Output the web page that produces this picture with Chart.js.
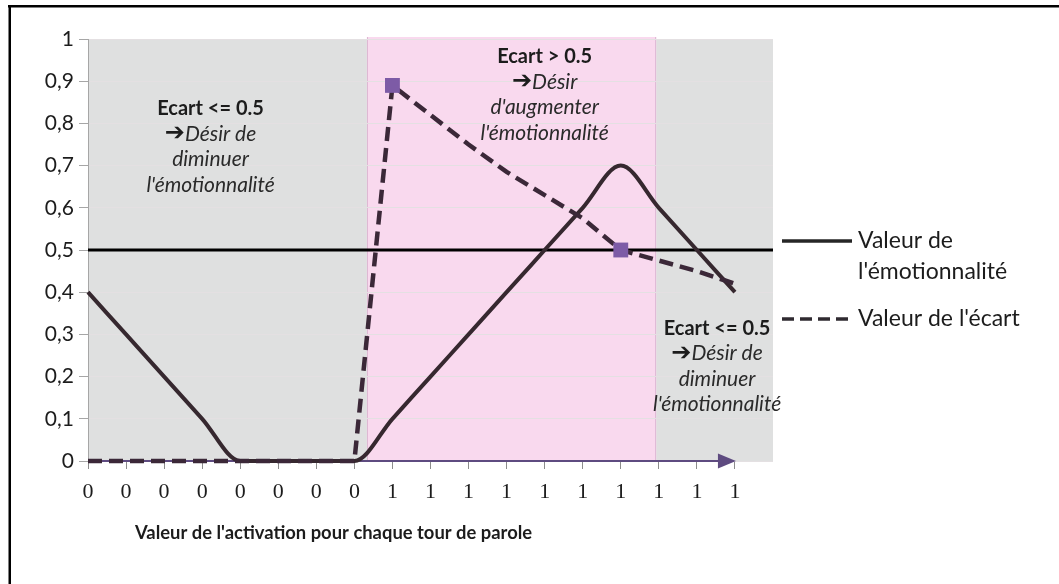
<!DOCTYPE html>
<html>
<head>
<meta charset="utf-8">
<script src="https://cdn.jsdelivr.net/npm/chart.js@4.4.0/dist/chart.umd.min.js"></script>
<style>
  html, body { margin: 0; padding: 0; background: #fff; }
</style>
</head>
<body>
<canvas id="myChart" width="1059" height="584"></canvas>
<script>
// activation value printed under each speech turn
var activationLabels = ["0", "0", "0", "0", "0", "0", "0", "0", "1", "1", "1", "1", "1", "1", "1", "1", "1", "1"];
var emotionValues = [0.4, 0.3, 0.2, 0.1, 0, 0, 0, 0, 0.1, 0.2, 0.3, 0.4, 0.5, 0.6, 0.7, 0.6, 0.5, 0.4];
var gapValues = [0, 0, 0, 0, 0, 0, 0, 0, 0.89, 0.82, 0.75, 0.685, 0.63, 0.575, 0.5, 0.475, 0.45, 0.42];
var markedTurns = [8, 14];
var threshold = 0.5;
var yTickLabels = ["0", "0,1", "0,2", "0,3", "0,4", "0,5", "0,6", "0,7", "0,8", "0,9", "1"];

var FONT = "Lato";
var INK = "#1c1c1c";

function toPoints(values) {
  return values.map(function (v, i) { return { x: i, y: v }; });
}

// shaded zones behind the plot: gray = decrease wanted, pink = increase wanted
var zones = {
  id: 'zones',
  beforeDraw: function (chart) {
    var ctx = chart.ctx, xs = chart.scales.x, ys = chart.scales.y;
    var top = ys.getPixelForValue(1), bottom = ys.getPixelForValue(0);
    var a = xs.getPixelForValue(0), b = xs.getPixelForValue(7.33);
    var c = xs.getPixelForValue(14.93), d = xs.getPixelForValue(18);
    ctx.save();
    ctx.fillStyle = '#dfe0e0';
    ctx.fillRect(a, top, b - a, bottom - top);
    ctx.fillRect(c, top + 1, d - c, bottom - top - 1);
    ctx.fillStyle = '#f9d9ee';
    ctx.fillRect(b, top - 2, c - b, bottom - top + 2);
    ctx.strokeStyle = '#dcb6d2';
    ctx.lineWidth = 1;
    ctx.beginPath();
    ctx.moveTo(b + 0.5, top - 2); ctx.lineTo(b + 0.5, bottom);
    ctx.moveTo(c - 0.5, top - 2); ctx.lineTo(c - 0.5, bottom);
    ctx.stroke();
    ctx.restore();
  }
};

// horizontal axis drawn as an arrow ending on the last turn
var axisArrow = {
  id: 'axisArrow',
  beforeDatasetsDraw: function (chart) {
    var ctx = chart.ctx, xs = chart.scales.x, ys = chart.scales.y;
    var y = ys.getPixelForValue(0);
    var x0 = xs.getPixelForValue(0), x1 = xs.getPixelForValue(activationLabels.length - 1) + 1;
    ctx.save();
    ctx.strokeStyle = '#5e4b80';
    ctx.fillStyle = '#5e4b80';
    ctx.lineWidth = 2;
    ctx.beginPath();
    ctx.moveTo(x0, y); ctx.lineTo(x1 - 10, y);
    ctx.stroke();
    ctx.beginPath();
    ctx.moveTo(x1, y);
    ctx.lineTo(x1 - 18, y - 7.5);
    ctx.lineTo(x1 - 18, y + 7.5);
    ctx.closePath();
    ctx.fill();
    ctx.restore();
  }
};

function drawNote(ctx, cx, cy, head, lines) {
  var step = 25.5;
  ctx.textBaseline = 'middle';
  ctx.textAlign = 'left';
  ctx.fillStyle = INK;
  ctx.font = 'bold 20px ' + FONT;
  var w = ctx.measureText(head).width;
  ctx.fillText(head, cx - w / 2, cy);
  lines.forEach(function (line, i) {
    var y = cy + step * (i + 1);
    ctx.font = 'italic 21px ' + FONT;
    var tw = ctx.measureText(line).width;
    if (i === 0) {
      ctx.font = 'bold 24px "DejaVu Sans"';
      var aw = ctx.measureText('\u2794').width;
      var sx = cx - (aw + tw) / 2;
      ctx.fillText('\u2794', sx, y);
      ctx.font = 'italic 21px ' + FONT;
      ctx.fillStyle = '#2a2a2a';
      ctx.fillText(line, sx + aw, y);
    } else {
      ctx.fillStyle = '#2a2a2a';
      ctx.fillText(line, cx - tw / 2, y);
    }
    ctx.fillStyle = INK;
  });
}

// notes, legend, axis title and frame
var overlay = {
  id: 'overlay',
  afterDraw: function (chart) {
    var ctx = chart.ctx, xs = chart.scales.x, ys = chart.scales.y;
    ctx.save();

    drawNote(ctx, xs.getPixelForValue(3.22), ys.getPixelForValue(0.835),
      "Ecart <= 0.5", ["D\u00e9sir de", "diminuer", "l'\u00e9motionnalit\u00e9"]);
    drawNote(ctx, xs.getPixelForValue(12.0), ys.getPixelForValue(0.958),
      "Ecart > 0.5", ["D\u00e9sir", "d'augmenter", "l'\u00e9motionnalit\u00e9"]);
    drawNote(ctx, xs.getPixelForValue(16.53), ys.getPixelForValue(0.315),
      "Ecart <= 0.5", ["D\u00e9sir de", "diminuer", "l'\u00e9motionnalit\u00e9"]);

    // legend
    var lx = chart.chartArea.right + 9;
    ctx.lineWidth = 3.5;
    ctx.strokeStyle = '#262626';
    ctx.beginPath(); ctx.moveTo(lx, 241); ctx.lineTo(lx + 70, 241); ctx.stroke();
    ctx.strokeStyle = '#2f2a30';
    ctx.setLineDash([12, 6]);
    ctx.beginPath(); ctx.moveTo(lx, 319); ctx.lineTo(lx + 70, 319); ctx.stroke();
    ctx.setLineDash([]);
    ctx.font = '23px ' + FONT;
    ctx.fillStyle = INK;
    ctx.textBaseline = 'middle';
    ctx.textAlign = 'left';
    ctx.fillText("Valeur de", lx + 76, 241);
    ctx.fillText("l'\u00e9motionnalit\u00e9", lx + 76, 272);
    ctx.fillText("Valeur de l'\u00e9cart", lx + 76, 319);

    // axis title
    ctx.font = 'bold 18.4px ' + FONT;
    ctx.textBaseline = 'alphabetic';
    ctx.fillText("Valeur de l'activation pour chaque tour de parole", 135, 539);

    // frame
    ctx.fillStyle = '#000';
    ctx.fillRect(8, 5, 1051, 2.5);
    ctx.fillRect(8.5, 5, 2.5, 579);
    ctx.restore();
  }
};

const CHART = document.getElementById("myChart");
Chart.defaults.font.family = FONT;

let myChart = new Chart(CHART, {
  type: 'line',
  data: {
    datasets: [{
      label: "Valeur de l'\u00e9cart",
      data: toPoints(gapValues),
      borderColor: '#3b2838',
      borderWidth: 4.5,
      borderDash: [14, 7],
      borderCapStyle: 'butt',
      tension: 0,
      clip: false,
      pointStyle: 'rect',
      pointRadius: function (ctx) { return markedTurns.includes(ctx.dataIndex) ? 10.5 : 0; },
      pointBackgroundColor: '#7d5ba6',
      pointBorderWidth: 0,
      order: 1
    }, {
      label: "Valeur de l'\u00e9motionnalit\u00e9",
      data: toPoints(emotionValues),
      borderColor: '#36282f',
      borderWidth: 4,
      cubicInterpolationMode: 'monotone',
      clip: false,
      pointRadius: 0,
      order: 2
    }, {
      label: 'seuil',
      data: [{ x: 0, y: threshold }, { x: 18, y: threshold }],
      borderColor: '#000',
      borderWidth: 3,
      pointRadius: 0,
      order: 3
    }]
  },
  options: {
    responsive: false,
    animation: false,
    layout: { padding: { left: 0, right: 286, top: 39, bottom: 0 } },
    plugins: {
      legend: { display: false },
      tooltip: { enabled: false }
    },
    scales: {
      x: {
        type: 'linear',
        min: 0,
        max: 18,
        afterFit: function (s) { s.height = 123; },
        afterBuildTicks: function (s) {
          s.ticks = activationLabels.map(function (l, i) { return { value: i }; });
        },
        ticks: {
          autoSkip: false,
          maxRotation: 0,
          padding: 10,
          color: INK,
          font: { family: 'Liberation Serif', size: 22 },
          callback: function (v) { return activationLabels[v]; }
        },
        grid: { drawOnChartArea: false, tickLength: 8, color: '#8c8c8c' },
        border: { display: false }
      },
      y: {
        min: 0,
        max: 1,
        afterFit: function (s) { s.width = 88; },
        afterBuildTicks: function (s) {
          s.ticks = yTickLabels.map(function (l, i) { return { value: i / 10 }; });
        },
        ticks: {
          padding: 5,
          color: INK,
          font: { size: 21 },
          callback: function (v, i) { return yTickLabels[i]; }
        },
        grid: { color: '#e4e0e2', tickLength: 9, tickColor: '#a6a6a6' },
        border: { color: '#a6a6a6', width: 1 }
      }
    }
  },
  plugins: [zones, axisArrow, overlay]
});
</script>
</body>
</html>
